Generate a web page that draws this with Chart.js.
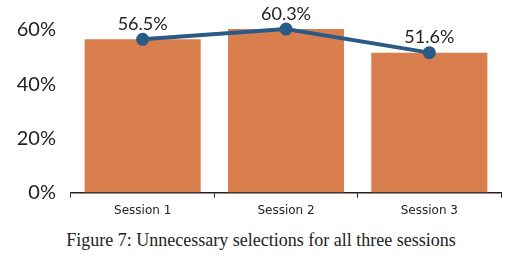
<!DOCTYPE html>
<html lang="en">
<head>
  <meta charset="UTF-8">
  <title>Unnecessary selections</title>
  <script src="https://cdn.jsdelivr.net/npm/chart.js"></script>
  <style>
    html, body { margin: 0; padding: 0; background: #fff; }
    .wrap { position: relative; width: 512px; height: 260px; }
    .chart-box { position: absolute; left: 0; top: 0; width: 512px; height: 224px; }
    .caption {
      position: absolute; left: 0; top: 229px; width: 522px;
      text-align: center; font-family: "Liberation Serif", "DejaVu Serif", serif;
      font-size: 18px; line-height: 22px; color: #222;
    }
  </style>
</head>
<body>
  <div class="wrap">
    <div class="chart-box"><canvas id="chart"></canvas></div>
    <div class="caption">Figure 7: Unnecessary selections for all three sessions</div>
  </div>

  <script>
    // data
    const sessions = ['Session 1', 'Session 2', 'Session 3'];
    const selectionRates = [56.5, 60.3, 51.6];
    const yTicks = [0, 20, 40, 60];

    const barColor = '#d97e4d';
    const lineColor = '#2c5a87';

    // values written above the line points
    const valueLabels = {
      id: 'valueLabels',
      afterDatasetsDraw(chart) {
        const meta = chart.getDatasetMeta(0);
        const ctx = chart.ctx;
        ctx.save();
        ctx.font = '18px Lato, sans-serif';
        ctx.fillStyle = '#222';
        ctx.textAlign = 'center';
        ctx.textBaseline = 'middle';
        meta.data.forEach((pt, i) => {
          ctx.fillText(selectionRates[i].toFixed(1) + '%', pt.x, pt.y - 15);
        });
        ctx.restore();
      }
    };

    new Chart(document.getElementById('chart'), {
      data: {
        labels: sessions,
        datasets: [
          {
            type: 'line',
            data: selectionRates,
            borderColor: lineColor,
            backgroundColor: lineColor,
            borderWidth: 4,
            pointRadius: 6.5,
            pointBackgroundColor: lineColor,
            pointBorderWidth: 0,
            clip: false,
            order: 0
          },
          {
            type: 'bar',
            data: selectionRates,
            backgroundColor: barColor,
            barPercentage: 0.9,
            categoryPercentage: 0.9,
            order: 1
          }
        ]
      },
      options: {
        responsive: true,
        maintainAspectRatio: false,
        animation: false,
        layout: { padding: { top: 4, right: 11, bottom: 0, left: 0 } },
        plugins: { legend: { display: false }, tooltip: { enabled: false } },
        scales: {
          x: {
            grid: { display: true, drawOnChartArea: false, tickLength: 5, color: '#222' },
            border: { display: true, color: '#222', width: 1.5 },
            ticks: { color: '#222', font: { family: 'DejaVu Sans', size: 12 }, padding: 6 }
          },
          y: {
            min: 0,
            max: 64,
            afterBuildTicks: (scale) => { scale.ticks = yTicks.map(v => ({ value: v })); },
            afterFit: (scale) => { scale.width = 71; },
            grid: { display: false },
            border: { display: false },
            ticks: {
              color: '#222',
              font: { family: 'Lato', size: 20 },
              padding: 7,
              callback: (v) => v + '%'
            }
          }
        }
      },
      plugins: [valueLabels]
    });
  </script>
</body>
</html>
